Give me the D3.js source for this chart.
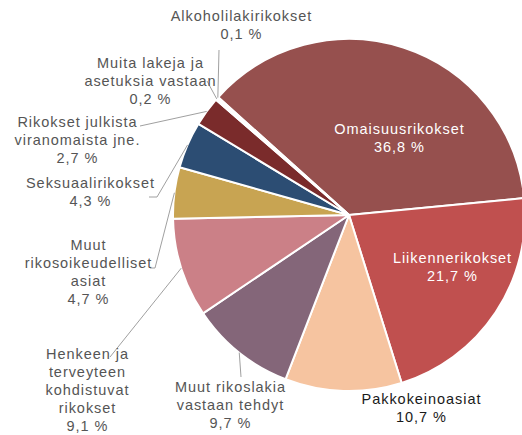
<!DOCTYPE html>
<html>
<head>
<meta charset="utf-8">
<script src="https://cdn.jsdelivr.net/npm/d3@7"></script>
<style>
  html, body { margin: 0; padding: 0; background: #fff; overflow: hidden; }
  svg { display: block; }
</style>
</head>
<body>
<svg id="chart" width="522" height="435"></svg>
<script>
// ---- data ----
const categories = [
  "Omaisuusrikokset",
  "Liikennerikokset",
  "Pakkokeinoasiat",
  "Muut rikoslakia vastaan tehdyt",
  "Henkeen ja terveyteen kohdistuvat rikokset",
  "Muut rikosoikeudelliset asiat",
  "Seksuaalirikokset",
  "Rikokset julkista viranomaista jne.",
  "Muita lakeja ja asetuksia vastaan",
  "Alkoholilakirikokset"
];
const values = [36.8, 21.7, 10.7, 9.7, 9.1, 4.7, 4.3, 2.7, 0.2, 0.1];
const valueLabels = ["36,8 %", "21,7 %", "10,7 %", "9,7 %", "9,1 %", "4,7 %", "4,3 %", "2,7 %", "0,2 %", "0,1 %"];
const nameLines = [
  ["Omaisuusrikokset"],
  ["Liikennerikokset"],
  ["Pakkokeinoasiat"],
  ["Muut rikoslakia", "vastaan tehdyt"],
  ["Henkeen ja", "terveyteen", "kohdistuvat", "rikokset"],
  ["Muut", "rikosoikeudelliset", "asiat"],
  ["Seksuaalirikokset"],
  ["Rikokset julkista", "viranomaista jne."],
  ["Muita lakeja ja", "asetuksia vastaan"],
  ["Alkoholilakirikokset"]
];

// ---- style / layout ----
const colors = ["#96504e", "#c0504f", "#f6c4a0", "#846679", "#cb8087",
                "#c8a452", "#2c4d73", "#7a2b2b", "#ffffff", "#ffffff"];
const textColors = ["#ffffff", "#ffffff", "#1a1a1a", "#555555", "#555555",
                    "#555555", "#555555", "#555555", "#555555", "#555555"];
// centre x and centre-y of first text line for each label
const labelPos = [
  [399, 129], [452, 258], [421, 399], [230, 387], [87, 354],
  [88, 245], [90, 183], [77, 122], [150, 63], [241, 16]
];
// leader line start points (null = no leader)
const leaderStart = [
  null, null, null,
  [[241, 377]],
  [[110, 357]],
  [[150, 268], [155, 268]],
  [[149, 197], [157, 197]],
  [[140, 126]],
  [[207, 81]],
  [[219, 50]]
];

const W = 522, H = 435;
const cx = 349, cy = 215, R = 176;
const startDeg = -48;
const lineH = 18;

const svg = d3.select("#chart");
const g = svg.append("g").attr("transform", `translate(${cx},${cy})`);

const pie = d3.pie()
  .value(d => d)
  .sort(null)
  .startAngle(startDeg * Math.PI / 180)
  .endAngle((startDeg + 360) * Math.PI / 180);

const arcs = pie(values);
const arc = d3.arc().innerRadius(0).outerRadius(R);
const edgeArc = d3.arc().innerRadius(R).outerRadius(R);

g.selectAll("path.slice")
  .data(arcs)
  .join("path")
  .attr("class", "slice")
  .attr("d", arc)
  .attr("fill", (d, i) => colors[i])
  .attr("stroke", "#ffffff")
  .attr("stroke-width", 2)
  .attr("stroke-linejoin", "round");

// leader lines
const line = d3.line();
arcs.forEach((d, i) => {
  if (!leaderStart[i]) return;
  const e = edgeArc.centroid(d);
  const pts = leaderStart[i].map(p => p.slice()).concat([[e[0] + cx, e[1] + cy]]);
  svg.append("path")
    .attr("d", line(pts))
    .attr("fill", "none")
    .attr("stroke", "#a0a0a0")
    .attr("stroke-width", 1);
});

// labels
const font = "'Liberation Sans', Arial, sans-serif";
categories.forEach((c, i) => {
  const lines = nameLines[i].concat([valueLabels[i]]);
  const [x, y] = labelPos[i];
  const t = svg.append("text")
    .attr("text-anchor", "middle")
    .attr("font-family", font)
    .attr("font-size", 14.5)
    .attr("letter-spacing", "0.95px")
    .attr("fill", textColors[i]);
  lines.forEach((l, k) => {
    t.append("tspan")
      .attr("x", x + 0.5)
      .attr("y", y + 5 + k * lineH)
      .text(l);
  });
});
</script>
</body>
</html>
